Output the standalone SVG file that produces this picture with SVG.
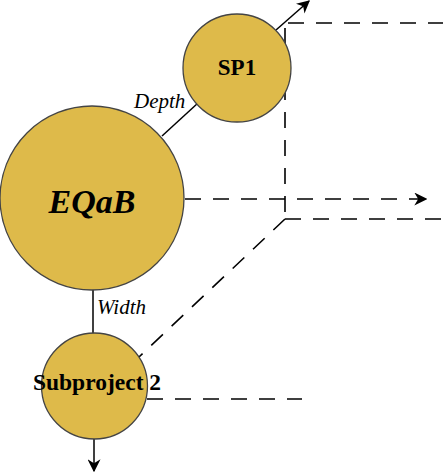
<svg xmlns="http://www.w3.org/2000/svg" width="443" height="473" viewBox="0 0 443 473">
<defs>
<style>
.node{fill:#DEBA4A;stroke:#444;stroke-width:1.3}
.solid{stroke:#000;stroke-width:1.5;fill:none}
.dash{stroke:#000;stroke-width:1.6;fill:none;stroke-dasharray:16 12}
.lbl{font-family:"Liberation Serif",serif;font-weight:bold;fill:#000;text-anchor:middle}
.edge{font-family:"Liberation Serif",serif;font-style:italic;fill:#000;font-size:21px}
</style>
<marker id="ah2" viewBox="0 0 10 10" refX="9" refY="5" markerWidth="13" markerHeight="13" markerUnits="userSpaceOnUse" orient="auto">
<path d="M0,0 L10,5 L0,10 L3,5 Z" fill="#000"/>
</marker>
</defs>
<g id="connectors">
<line class="dash" x1="288" y1="23" x2="443" y2="23"/>
<line class="dash" x1="285" y1="28" x2="285" y2="219"/>
<line class="dash" x1="285" y1="219" x2="443" y2="219"/>
<line class="dash" x1="185" y1="199" x2="426" y2="199" marker-end="url(#ah2)"/>
<line class="dash" x1="285" y1="219" x2="139" y2="357"/>
<line class="dash" x1="147" y1="399" x2="302" y2="399"/>
<line class="solid" x1="162" y1="136" x2="198" y2="103"/>
<line class="solid" x1="93" y1="290" x2="93" y2="333"/>
<line class="solid" x1="276" y1="30" x2="309" y2="1" marker-end="url(#ah2)"/>
<line class="solid" x1="94" y1="439" x2="94" y2="471" marker-end="url(#ah2)"/>
<text class="edge" x="134" y="108">Depth</text>
<text class="edge" x="97" y="314">Width</text>
</g>
<g id="EQaB">
<circle class="node" cx="92" cy="198" r="92"/>
<text class="lbl" x="92" y="213" font-size="34" font-style="italic">EQaB</text>
</g>
<g id="SP1">
<circle class="node" cx="237" cy="68" r="54"/>
<text class="lbl" x="237" y="75" font-size="23">SP1</text>
</g>
<g id="Subproject2">
<circle class="node" cx="94.5" cy="386" r="53"/>
<text class="lbl" x="97" y="390" font-size="23.5">Subproject 2</text>
</g>
</svg>
